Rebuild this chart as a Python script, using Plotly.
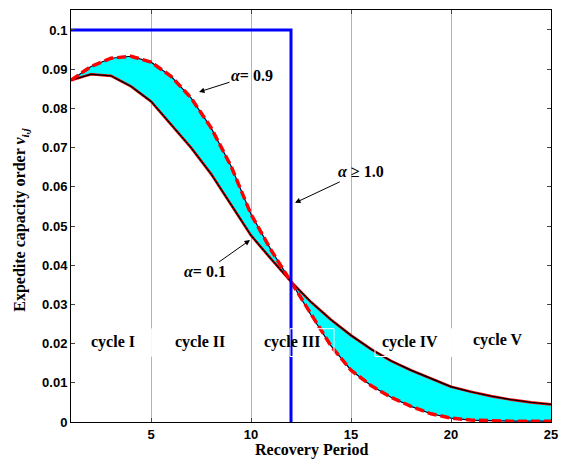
import plotly.graph_objects as go

# ---- data ----
period = list(range(1, 26))
alpha_01 = [0.0872, 0.0887, 0.0883, 0.0856, 0.0818, 0.0760, 0.0700, 0.0633, 0.0556, 0.0476,
            0.0416, 0.0358, 0.0306, 0.0261, 0.0221, 0.0186, 0.0156, 0.0132, 0.0111, 0.0090,
            0.0077, 0.0066, 0.0057, 0.0050, 0.0045]
alpha_09 = [0.0872, 0.0907, 0.0928, 0.0933, 0.0918, 0.0882, 0.0827, 0.0751, 0.0653, 0.0530,
            0.0439, 0.0358, 0.0273, 0.0194, 0.0132, 0.0093, 0.0063, 0.0040, 0.0021, 0.0010,
            0.0005, 0.0003, 0.0002, 0.0002, 0.0002]
alpha_10_x = [1, 12, 12]
alpha_10_y = [0.1, 0.1, 0.0]

x_ticks = [5, 10, 15, 20, 25]
y_ticks = [0, 0.01, 0.02, 0.03, 0.04, 0.05, 0.06, 0.07, 0.08, 0.09, 0.1]
y_tick_text = ["0", "0.01", "0.02", "0.03", "0.04", "0.05", "0.06", "0.07", "0.08", "0.09", "0.1"]

cycle_labels = ["cycle I", "cycle II", "cycle III", "cycle IV", "cycle V"]
cycle_x = [3.1, 7.45, 12.05, 17.95, 22.3]
cycle_y = [0.0203, 0.0203, 0.0203, 0.0204, 0.0208]

SERIF = "Liberation Serif, Times New Roman, serif"
SANS = "Liberation Sans, Arial, sans-serif"

fig = go.Figure()

# fill between curves
fig.add_trace(go.Scatter(x=period, y=alpha_01, mode="lines", line=dict(width=0, color="#00ffff"),
                         showlegend=False, hoverinfo="skip"))
fig.add_trace(go.Scatter(x=period, y=alpha_09, mode="lines", line=dict(width=0, color="#00ffff"),
                         fill="tonexty", fillcolor="#00ffff", showlegend=False, hoverinfo="skip"))

# alpha = 0.1 curve: red under black
fig.add_trace(go.Scatter(x=period, y=alpha_01, mode="lines",
                         line=dict(color="#ff0000", width=2.6), showlegend=False))
fig.add_trace(go.Scatter(x=period, y=alpha_01, mode="lines",
                         line=dict(color="#000000", width=1.4), showlegend=False))
# alpha = 0.9 curve: dark thin under red dashed
fig.add_trace(go.Scatter(x=period, y=alpha_09, mode="lines",
                         line=dict(color="#000033", width=1.2), showlegend=False))
fig.add_trace(go.Scatter(x=period, y=alpha_09, mode="lines",
                         line=dict(color="#ff0000", width=3.5, dash="9px,4px"), showlegend=False))
# alpha >= 1.0 step
fig.add_trace(go.Scatter(x=alpha_10_x, y=alpha_10_y, mode="lines",
                         line=dict(color="#0000ff", width=3), showlegend=False))

# white edged text boxes (as in original)
boxes = [(4.98, 5.02), (11.95, 14.15), (16.2, 20.0), (20.0, 20.02)]
for x0, x1 in boxes:
    fig.add_shape(type="rect", x0=x0, x1=x1, y0=0.0167, y1=0.0238, xref="x", yref="y",
                  line=dict(color="white", width=1), fillcolor="rgba(0,0,0,0)", layer="above")

for lab, cx, cy in zip(cycle_labels, cycle_x, cycle_y):
    fig.add_annotation(x=cx, y=cy, text=f"<b>{lab}</b>", showarrow=False,
                       font=dict(family=SERIF, size=16, color="black"))

arrow_common = dict(showarrow=True, arrowhead=2, arrowsize=1.1, arrowwidth=1,
                    arrowcolor="black", axref="x", ayref="y",
                    font=dict(family=SERIF, size=16, color="black"))
fig.add_annotation(x=7.4, y=0.0842, ax=10.05, ay=0.0885,
                   text="<b><i>α</i>= 0.9</b>", **arrow_common)
fig.add_annotation(x=12.2, y=0.0559, ax=15.5, ay=0.0638,
                   text="<b><i>α</i> ≥ 1.0</b>", **arrow_common)
fig.add_annotation(x=9.95, y=0.0464, ax=7.7, ay=0.0383,
                   text="<b><i>α</i>= 0.1</b>", **arrow_common)

# axis titles as annotations for exact placement
fig.add_annotation(xref="paper", yref="paper", x=0.5, y=-0.069, yanchor="middle",
                   text="<b>Recovery Period</b>", showarrow=False,
                   font=dict(family=SERIF, size=16, color="black"))
fig.add_annotation(xref="paper", yref="paper", x=-0.105, y=0.49, xanchor="center",
                   yanchor="middle", textangle=-90,
                   text="<b>Expedite capacity order <i>v</i><sub><i>i,j</i></sub></b>",
                   showarrow=False, font=dict(family=SERIF, size=16, color="black"))

fig.update_layout(
    width=564, height=459,
    margin=dict(l=71, r=13, t=10, b=37, pad=0),
    plot_bgcolor="white", paper_bgcolor="white",
    xaxis=dict(range=[1, 25], tickvals=x_ticks, ticks="inside", ticklen=4,
               showgrid=True, gridcolor="#b4b4b4", gridwidth=1,
               showline=True, linecolor="black", linewidth=1, mirror="ticks",
               zeroline=False, automargin=False,
               tickfont=dict(family=SANS, size=13, color="black", weight="bold")),
    yaxis=dict(range=[0, 0.1051], tickvals=y_ticks, ticktext=y_tick_text,
               ticks="inside", ticklen=4, showgrid=False,
               showline=True, linecolor="black", linewidth=1, mirror="ticks",
               zeroline=False, automargin=False,
               tickfont=dict(family=SANS, size=13, color="black", weight="bold")),
)

fig.write_html("out.html", config={"displayModeBar": False},
               post_script="document.body.style.margin='0';document.body.style.overflow='hidden';")
